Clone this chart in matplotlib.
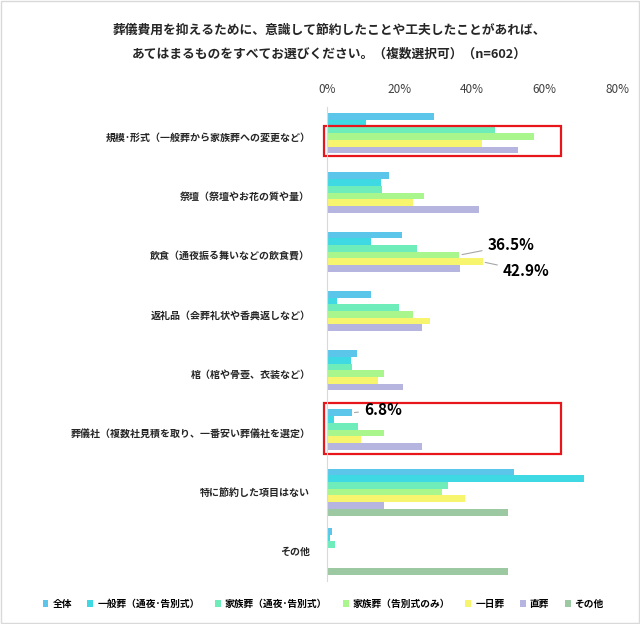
import matplotlib
matplotlib.use("Agg")
import matplotlib.pyplot as plt
import matplotlib.patches as patches
import numpy as np

plt.rcParams['font.family'] = ['Noto Sans CJK JP', 'DejaVu Sans']

categories = [
    '規模･形式（一般葬から家族葬への変更など）',
    '祭壇（祭壇やお花の質や量）',
    '飲食（通夜振る舞いなどの飲食費）',
    '返礼品（会葬礼状や香典返しなど）',
    '棺（棺や骨壺、衣装など）',
    '葬儀社（複数社見積を取り、一番安い葬儀社を選定）',
    '特に節約した項目はない',
    'その他',
]
series = ['全体', '一般葬（通夜･告別式）', '家族葬（通夜･告別式）', '家族葬（告別式のみ）',
          '一日葬', '直葬', 'その他']

zentai = [29.6, 17.1, 20.6, 12.1, 8.4, 6.8, 51.7, 1.5]
ippan = [10.7, 14.9, 12.1, 2.8, 6.7, 2.0, 70.9, 0.9]
kazoku_tsuya = [46.3, 15.2, 24.8, 19.8, 6.9, 8.5, 33.5, 2.3]
kazoku_kokubetsu = [57.0, 26.8, 36.5, 23.8, 15.6, 15.6, 31.6, 0.0]
ichinichi = [42.7, 23.7, 42.9, 28.4, 14.1, 9.3, 38.1, 0.0]
chokusou = [52.6, 42.0, 36.7, 26.2, 20.9, 26.2, 15.6, 0.0]
sonota = [0.0, 0.0, 0.0, 0.0, 0.0, 0.0, 50.0, 50.0]
values = [zentai, ippan, kazoku_tsuya, kazoku_kokubetsu, ichinichi, chokusou, sonota]

colors = ['#5cc6ea', '#3fd9e3', '#6eedbb', '#a9f68c', '#f7f46e', '#b6b5e0', '#9cc9a2']

fig = plt.figure(figsize=(6.4, 6.24), dpi=100)
fig.patches.append(patches.Rectangle((0.002, 0.002), 0.996, 0.996, transform=fig.transFigure,
                                     fill=False, edgecolor='#d9d9d9', linewidth=1))
ax = fig.add_axes([327 / 640, 1 - 581 / 624, 290 / 640, 474 / 624])

h = 0.113
y = np.arange(len(categories))
for j, (name, vals, c) in enumerate(zip(series, values, colors)):
    ax.barh(y + (j - 3) * h, vals, height=h, color=c, label=name, linewidth=0)

ax.set_xlim(0, 80)
ax.set_ylim(len(categories) - 0.5, -0.5)
ax.xaxis.tick_top()
ax.set_xticks([0, 20, 40, 60, 80])
ax.set_xticklabels(['0%', '20%', '40%', '60%', '80%'], fontsize=8.5, color='#404040')
ax.set_yticks(y)
ax.set_yticklabels(categories, fontsize=7.2, fontweight='bold', color='#262626')
ax.tick_params(length=0, pad=12)
ax.tick_params(axis='x', pad=8)
for s in ['top', 'right', 'bottom']:
    ax.spines[s].set_visible(False)
ax.spines['left'].set_color('#d9d9d9')

# red highlight boxes
ax.add_patch(patches.Rectangle((-0.7, -0.18), 65.2, 0.50, fill=False, edgecolor='#e8161b',
                               linewidth=1.6, clip_on=False))
ax.add_patch(patches.Rectangle((-0.7, 4.49), 65.2, 0.87, fill=False, edgecolor='#e8161b',
                               linewidth=1.6, clip_on=False))

# callouts
arrow = dict(arrowstyle='-', color='#a6a6a6', linewidth=0.8)
ax.annotate(f'{kazoku_kokubetsu[2]}%', xy=(kazoku_kokubetsu[2], 2.0), xytext=(44.3, 1.83),
            fontsize=11, fontweight='bold', va='center', ha='left', arrowprops=arrow)
ax.annotate(f'{ichinichi[2]}%', xy=(ichinichi[2], 2 + h), xytext=(48.5, 2.27),
            fontsize=11, fontweight='bold', va='center', ha='left', arrowprops=arrow)
ax.annotate(f'{zentai[5]}%', xy=(zentai[5], 5 - 3 * h), xytext=(10.2, 4.61),
            fontsize=11, fontweight='bold', va='center', ha='left', arrowprops=arrow)

fig.text(0.515, 1 - 30 / 624, '葬儀費用を抑えるために、意識して節約したことや工夫したことがあれば、',
         ha='center', va='center', fontsize=9.2, fontweight='bold', color='#262626')
fig.text(0.515, 1 - 54 / 624, 'あてはまるものをすべてお選びください。（複数選択可）（n=602）',
         ha='center', va='center', fontsize=9.2, fontweight='bold', color='#262626')

handles, labels = ax.get_legend_handles_labels()
fig.legend(handles, labels, loc='center', bbox_to_anchor=(0.505, 1 - 604 / 624), ncol=7,
           frameon=False, handlelength=0.6, handleheight=0.6, handletextpad=0.4,
           columnspacing=1.6, prop={'weight': 'bold', 'size': 7})

fig.savefig('out.png', dpi=100)
